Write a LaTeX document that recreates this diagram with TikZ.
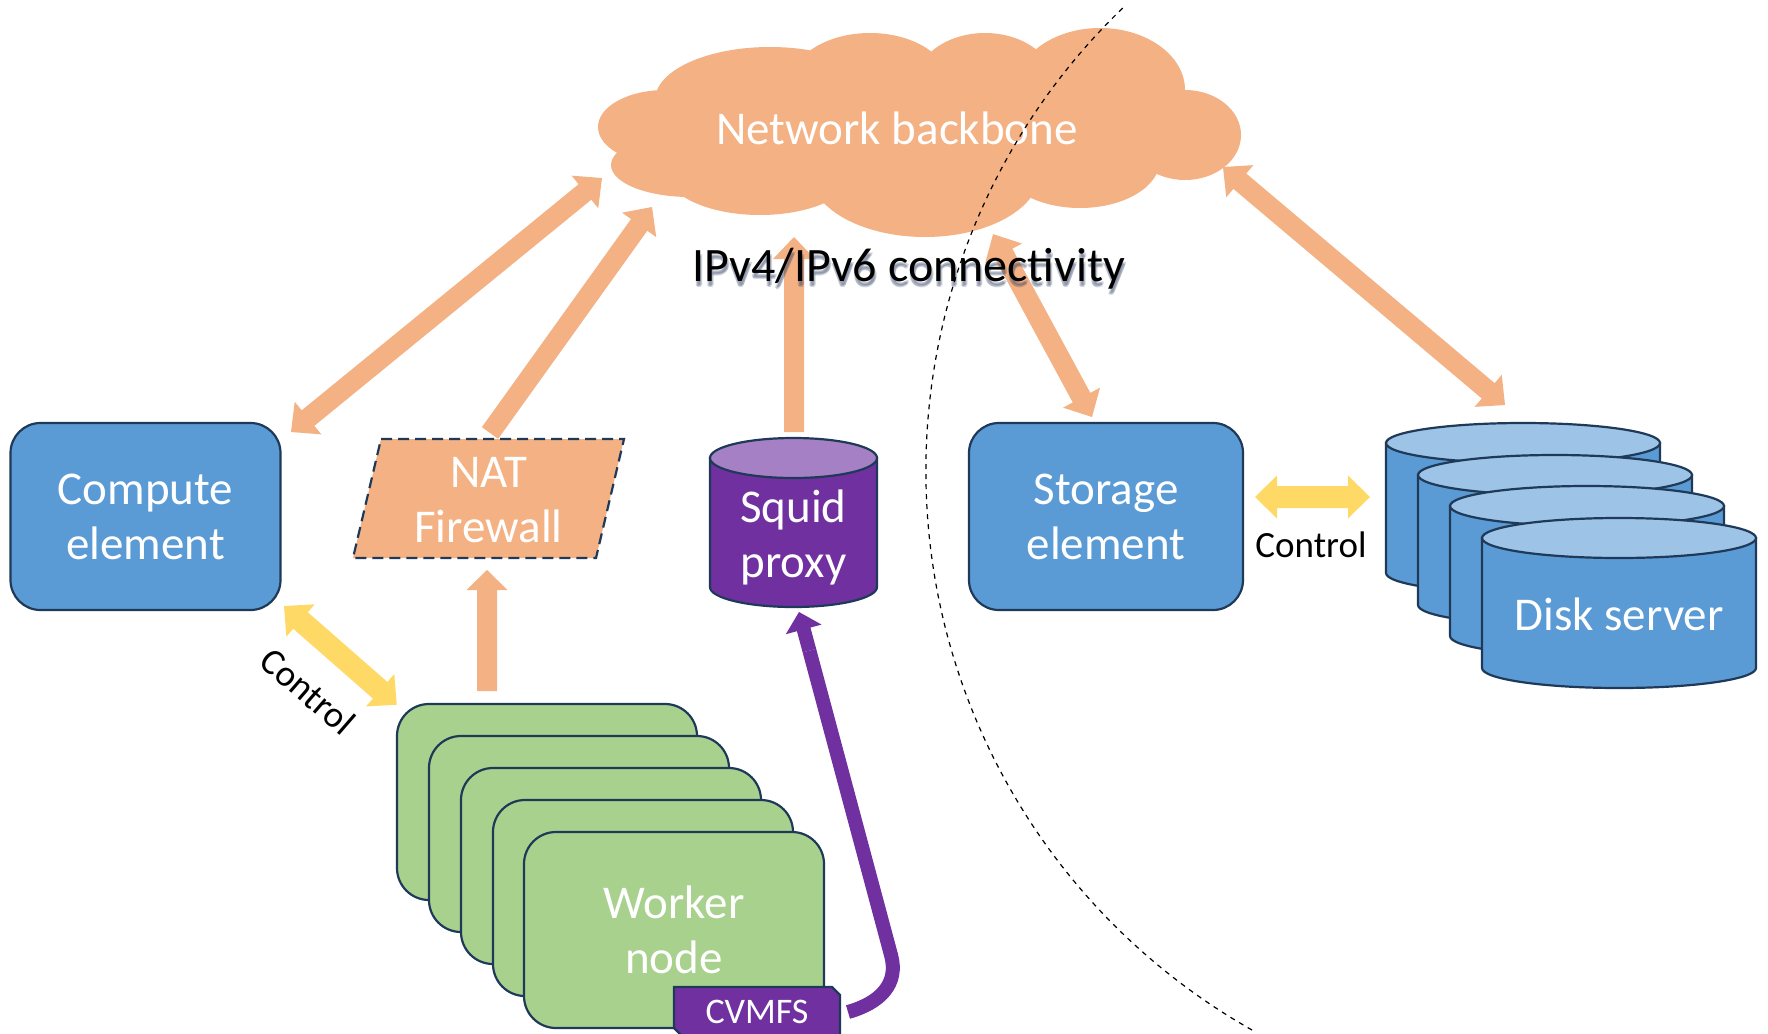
\documentclass[tikz,border=0pt]{standalone}
\usepackage{fontspec}
\setmainfont{Carlito}
\usetikzlibrary{calc}
\definecolor{corange}{HTML}{F4B183}
\definecolor{cyellow}{HTML}{FFD966}
\definecolor{cblue}{HTML}{5B9BD5}
\definecolor{cblueL}{HTML}{9DC3E6}
\definecolor{cgreen}{HTML}{A9D18E}
\definecolor{cpurple}{HTML}{7030A0}
\definecolor{cpurpleL}{HTML}{A680C4}
\definecolor{cnavy}{HTML}{1F3A58}
\definecolor{cshadow}{HTML}{2E3F63}

\newcommand\arrsetup[2]{%
  \path let \p1=($(#2)-(#1)$) in \pgfextra{%
    \pgfmathsetmacro\tmpang{atan2(\y1,\x1)}%
    \pgfmathsetmacro\tmplen{veclen(\x1,\y1)}%
    \global\let\arrang\tmpang \global\let\arrlen\tmplen};%
}
% style colour, from, to, half shaft, half head, head length (pt)
\newcommand\singlearr[6]{%
  \arrsetup{#2}{#3}%
  \fill[#1,shift={(#2)},rotate=\arrang] (0pt,-#4pt) -- ({\arrlen pt-#6pt},-#4pt) -- ({\arrlen pt-#6pt},-#5pt) -- (\arrlen pt,0pt) -- ({\arrlen pt-#6pt},#5pt) -- ({\arrlen pt-#6pt},#4pt) -- (0pt,#4pt) -- cycle;
}
\newcommand\doublearr[6]{%
  \arrsetup{#2}{#3}%
  \fill[#1,shift={(#2)},rotate=\arrang] (0pt,0pt) -- (#6pt,-#5pt) -- (#6pt,-#4pt) -- ({\arrlen pt-#6pt},-#4pt) -- ({\arrlen pt-#6pt},-#5pt) -- (\arrlen pt,0pt) -- ({\arrlen pt-#6pt},#5pt) -- ({\arrlen pt-#6pt},#4pt) -- (#6pt,#4pt) -- (#6pt,#5pt) -- cycle;
}
% left, top, right, bottom, body colour, top colour
\newcommand\drawcyl[6]{%
  \filldraw[fill=#5, draw=cnavy, line width=1.1pt] (#1,#2+20) -- (#1,#4-20) arc[start angle=180, end angle=360, x radius={(#3-#1)/4*1pt}, y radius=10pt] -- (#3,#2+20) -- cycle;
  \filldraw[fill=#6, draw=cnavy, line width=1.1pt] ({(#1+#3)/2},#2+20) ellipse[x radius={(#3-#1)/4*1pt}, y radius=10pt];
}

\begin{document}
\begin{tikzpicture}[x=0.5pt,y=-0.5pt,
  bigtxt/.style={text=white, font=\fontsize{23.5}{27.5}\selectfont, align=center},
  ctltxt/.style={text=black, font=\fontsize{18.5}{20}\selectfont},
  iptxt/.style={font=\fontsize{24}{28}\selectfont},
  ipshadow/.style={iptxt, text=cshadow, opacity=0.22},
  box/.style={draw=cnavy, line width=1.1pt, rounded corners=15pt, fill=cblue},
  wbox/.style={draw=cnavy, line width=1.1pt, rounded corners=16pt, fill=cgreen},
  natbox/.style={draw=cnavy, line width=1.1pt, fill=corange, dash pattern=on 5.5pt off 3pt},
  divider/.style={draw=black, line width=0.6pt, dash pattern=on 2.5pt off 2.5pt}
]
\useasboundingbox (0,0) rectangle (1768,1034);
\fill[white] (0,0) rectangle (1768,1034);

% cloud
\fill[corange]
  (665,127) ellipse[x radius=33.5pt, y radius=18.5pt]
  (690,165) ellipse[x radius=39.5pt, y radius=16pt]
  (770,100) ellipse[x radius=57.5pt, y radius=26.5pt]
  (870,85) ellipse[x radius=40pt, y radius=26pt]
  (985,85) ellipse[x radius=35pt, y radius=26pt]
  (1100,90) ellipse[x radius=42.5pt, y radius=31pt]
  (1185,135) ellipse[x radius=28pt, y radius=22.5pt]
  (1080,160) ellipse[x radius=40pt, y radius=24pt]
  (925,172) ellipse[x radius=57.5pt, y radius=32.5pt]
  (760,170) ellipse[x radius=47.5pt, y radius=22.5pt]
  (910,130) ellipse[x radius=125pt, y radius=35pt];
\node[bigtxt] (cloud) at (897,128) {Network backbone};

% compute element
\node[box, bigtxt, minimum width=135pt, minimum height=93.5pt] (ce) at (145.5,516.5) {Compute\\element};

% NAT firewall
\draw[natbox] (381,439) -- (624,439) -- (596,558) -- (353,558) -- cycle;
\node[bigtxt] (nat) at (488.5,500) {NAT\\Firewall};

% squid proxy
\drawcyl{710}{438}{877}{607}{cpurple}{cpurpleL}
\node[bigtxt] (sq) at (793.5,537) {Squid\\proxy};

% storage element
\node[box, bigtxt, minimum width=137pt, minimum height=93.5pt] (se) at (1106,516.5) {Storage\\element};

% disk servers
\drawcyl{1386}{423}{1660}{593}{cblue}{cblueL}
\drawcyl{1418}{455}{1692}{625}{cblue}{cblueL}
\drawcyl{1450}{486}{1724}{656}{cblue}{cblueL}
\drawcyl{1482}{518}{1756}{688}{cblue}{cblueL}
\node[bigtxt] (ds) at (1619,614) {Disk server};

% worker nodes
\foreach \i in {0,...,3}
  \draw[wbox] ({397+32*\i},{704+32*\i}) rectangle ++(300,196);
\node[wbox, bigtxt, minimum width=150pt, minimum height=98pt] (wn) at (674,930) {Worker\\node};

% CVMFS
\draw[fill=cpurple, draw=cnavy, line width=1.1pt] (674,987) -- (832,987) -- (840,995) -- (840,1040) -- (686,1040) -- (674,1028) -- cycle;
\node[text=white, font=\fontsize{18}{20}\selectfont] (cv) at (757,1012) {CVMFS};

% connector end points
\coordinate (ceN) at (291,432);   \coordinate (cl1) at (602,178);
\coordinate (natN) at (490,433);  \coordinate (cl2) at (652,207);
\coordinate (wnN) at (487,691);   \coordinate (natS) at (487,570);
\coordinate (sqN) at (794,432);   \coordinate (cl3) at (794,237);
\coordinate (seN) at (1092,417);  \coordinate (cl4) at (993,234);
\coordinate (dsN) at (1505,405);  \coordinate (cl5) at (1223,167);
\coordinate (ceSE) at (284,606);  \coordinate (wnNW) at (397,705);
\coordinate (seE) at (1255,497);  \coordinate (dsW) at (1370,497);
\coordinate (cvE) at (848,1012);  \coordinate (pbend) at (891,955);
\coordinate (pmid) at (809.4,650.6); \coordinate (sqS) at (799,612);

% orange network arrows
\doublearr{fill=corange}{ceN}{cl1}{5}{10.5}{11}
\singlearr{fill=corange}{natN}{cl2}{5}{10.5}{11}
\singlearr{fill=corange}{wnN}{natS}{5}{10.25}{10}
\singlearr{fill=corange}{sqN}{cl3}{5}{10.5}{11}
\doublearr{fill=corange}{seN}{cl4}{5}{10.5}{11}
\doublearr{fill=corange}{dsN}{cl5}{5}{10.5}{11}

% yellow control arrows
\doublearr{fill=cyellow}{ceSE}{wnNW}{5.5}{10.75}{11}
\doublearr{fill=cyellow}{seE}{dsW}{5.5}{10.75}{11}
\node[ctltxt, rotate=-41] (ctl1) at (308,691) {Control};
\node[ctltxt] (ctl2) at (1311,545) {Control};

% purple CVMFS arrow
\draw[cpurple, line width=7pt] (cvE) .. controls (880,1003) and (899,984) .. (pbend) -- (pmid);
\singlearr{fill=cpurple}{pmid}{sqS}{3.5}{9.25}{9}

% IPv4/IPv6 label with soft shadow
\node[ipshadow] at (911,273) {IPv4/IPv6 connectivity};
\node[ipshadow] at (909,274) {IPv4/IPv6 connectivity};
\node[ipshadow] at (910,275) {IPv4/IPv6 connectivity};
\node[iptxt, text=black] (ip) at (909,269) {IPv4/IPv6 connectivity};

% dashed divider
\draw[divider] (1252,1030) arc[start angle=119.5, end angle=226.35, radius=642.5];
\end{tikzpicture}
\end{document}
